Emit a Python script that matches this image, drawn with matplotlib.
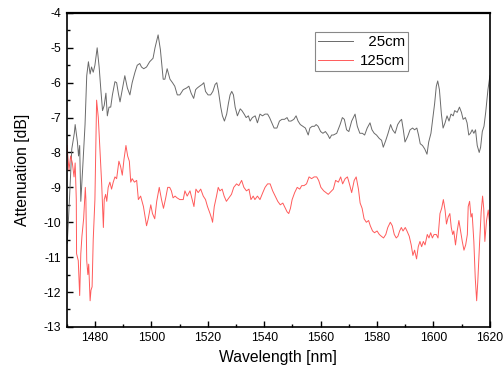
import matplotlib
matplotlib.use("Agg")
import matplotlib.pyplot as plt
from matplotlib.ticker import MultipleLocator

plt.rcParams['font.family'] = ['Liberation Sans', 'DejaVu Sans']
plt.rcParams['axes.unicode_minus'] = False

# 25cm trace
wl_25 = [1470.2, 1471.0, 1471.8, 1472.7, 1473.0, 1473.8, 1474.2, 1474.6, 1475.0, 1475.7,
         1476.5, 1477.1, 1477.7, 1478.3, 1478.8, 1479.4, 1480.0, 1480.8, 1481.5, 1482.1,
         1482.7, 1483.3, 1483.9, 1484.4, 1485.0, 1485.6, 1486.2, 1487.1, 1487.7, 1488.3,
         1488.9, 1489.7, 1490.6, 1491.5, 1492.4, 1493.2, 1494.2, 1495.0, 1495.9, 1496.5,
         1497.3, 1498.3, 1499.4, 1500.6, 1501.3, 1502.4, 1503.2, 1504.2, 1504.8, 1505.6,
         1506.6, 1507.5, 1508.3, 1509.2, 1510.1, 1511.3, 1512.5, 1513.3, 1514.1, 1515.0,
         1515.7, 1516.3, 1517.1, 1518.0, 1518.6, 1519.2, 1520.1, 1521.0, 1521.8, 1522.6,
         1523.2, 1523.8, 1524.6, 1525.2, 1525.9, 1526.7, 1527.3, 1527.9, 1528.5, 1529.1,
         1529.7, 1530.5, 1531.5, 1532.1, 1532.9, 1533.6, 1534.4, 1535.0, 1535.8, 1536.8,
         1537.6, 1538.5, 1539.4, 1540.3, 1541.2, 1541.9, 1542.7, 1543.5, 1544.5, 1545.4,
         1546.3, 1547.2, 1548.1, 1548.7, 1549.5, 1550.5, 1551.3, 1552.0, 1552.8, 1553.7,
         1554.6, 1555.6, 1556.2, 1557.0, 1557.8, 1558.4, 1559.1, 1560.0, 1560.8, 1561.7,
         1562.6, 1563.2, 1563.9, 1564.5, 1565.7, 1566.9, 1567.7, 1568.4, 1569.2, 1570.0,
         1571.0, 1572.2, 1573.0, 1573.9, 1574.8, 1575.6, 1576.5, 1577.5, 1578.2, 1579.0,
         1579.8, 1580.8, 1581.6, 1582.2, 1583.1, 1583.9, 1584.8, 1585.5, 1586.4, 1587.3,
         1588.1, 1588.7, 1589.3, 1589.9, 1590.8, 1591.7, 1592.6, 1593.3, 1594.1, 1594.7,
         1595.3, 1596.1, 1596.9, 1597.7, 1598.3, 1599.1, 1599.8, 1600.4, 1601.0, 1601.5,
         1602.1, 1602.8, 1603.4, 1604.1, 1604.8, 1605.5, 1606.2, 1607.0, 1607.5, 1608.4,
         1609.2, 1609.9, 1610.5, 1611.3, 1611.9, 1612.5, 1613.1, 1613.7, 1614.3, 1614.9,
         1615.5, 1616.2, 1616.7, 1617.3, 1617.9, 1618.5, 1619.3, 1620.0]
db_25 = [-10.6, -9.3, -7.9, -7.45, -7.2, -7.7, -8.1, -7.8, -9.4, -8.4,
         -7.2, -5.8, -5.4, -5.75, -5.55, -5.7, -5.5, -5.0, -5.55, -6.2,
         -6.8, -6.65, -6.3, -6.95, -6.7, -6.7, -6.35, -5.97, -6.0, -6.3,
         -6.55, -6.2, -5.8, -6.15, -6.35, -6.0, -5.7, -5.5, -5.45, -5.55,
         -5.6, -5.55, -5.4, -5.3, -5.0, -4.63, -5.05, -5.9, -5.9, -5.6,
         -5.9, -6.0, -6.1, -6.35, -6.35, -6.2, -6.15, -6.1, -6.3, -6.45,
         -6.2, -6.15, -6.1, -6.05, -6.0, -6.25, -6.35, -6.35, -6.25, -6.05,
         -6.0, -6.25, -6.7, -6.95, -7.1, -6.9, -6.6, -6.35, -6.25, -6.35,
         -6.7, -6.95, -6.75, -6.8, -6.9, -7.0, -6.95, -7.1, -7.0, -6.95,
         -7.15, -6.9, -6.95, -6.9, -6.9, -7.0, -7.15, -7.3, -7.3, -7.1,
         -7.05, -7.05, -7.0, -7.1, -7.1, -7.05, -6.95, -7.1, -7.2, -7.25,
         -7.3, -7.5, -7.3, -7.25, -7.25, -7.2, -7.25, -7.4, -7.45, -7.4,
         -7.5, -7.6, -7.5, -7.5, -7.45, -7.2, -7.0, -7.05, -7.35, -7.4,
         -7.1, -6.9, -7.25, -7.45, -7.45, -7.5, -7.3, -7.15, -7.35, -7.45,
         -7.5, -7.6, -7.65, -7.85, -7.65, -7.45, -7.2, -7.35, -7.45, -7.2,
         -7.1, -7.05, -7.35, -7.7, -7.55, -7.35, -7.3, -7.35, -7.3, -7.5,
         -7.75, -7.8, -7.9, -8.05, -7.7, -7.45, -7.0, -6.6, -6.1, -5.95,
         -6.2, -6.9, -7.3, -7.15, -6.95, -7.1, -6.9, -6.95, -6.8, -6.85,
         -6.7, -6.85, -7.05, -7.0, -7.15, -7.5, -7.45, -7.35, -7.45, -7.35,
         -7.8, -8.0, -7.85, -7.4, -7.25, -6.85, -6.2, -5.8]

# 125cm trace
wl_125 = [1470.1, 1470.8, 1471.4, 1472.0, 1472.6, 1473.0, 1473.4, 1473.5, 1474.1, 1474.6,
          1475.0, 1475.4, 1476.0, 1476.6, 1476.8, 1477.1, 1477.5, 1477.8, 1478.3, 1478.6,
          1479.0, 1479.4, 1480.0, 1480.6, 1481.2, 1481.8, 1482.4, 1483.0, 1483.3, 1483.8,
          1484.2, 1484.7, 1485.3, 1485.9, 1486.5, 1487.1, 1487.7, 1488.5, 1489.1, 1489.7,
          1490.3, 1491.0, 1491.6, 1492.2, 1492.7, 1493.2, 1494.0, 1494.8, 1495.4, 1496.2,
          1497.2, 1497.8, 1498.3, 1498.9, 1499.8, 1500.4, 1501.2, 1501.9, 1502.8, 1503.6,
          1504.3, 1505.1, 1505.8, 1506.5, 1507.1, 1507.7, 1508.4, 1509.1, 1510.1, 1511.3,
          1511.9, 1512.7, 1513.7, 1514.5, 1515.1, 1515.8, 1516.6, 1517.5, 1518.4, 1519.2,
          1519.9, 1520.8, 1521.4, 1521.7, 1522.3, 1523.1, 1523.7, 1524.3, 1525.1, 1525.8,
          1526.6, 1527.5, 1528.4, 1529.2, 1530.2, 1531.0, 1532.0, 1532.8, 1533.7, 1534.6,
          1535.3, 1536.1, 1536.7, 1537.6, 1538.5, 1539.5, 1540.3, 1541.2, 1542.1, 1543.0,
          1543.9, 1544.8, 1545.7, 1546.6, 1547.5, 1548.1, 1548.7, 1549.3, 1549.9, 1550.8,
          1551.7, 1552.6, 1553.3, 1554.1, 1555.0, 1555.9, 1556.8, 1557.7, 1558.6, 1559.3,
          1560.1, 1561.1, 1561.9, 1562.7, 1564.5, 1565.3, 1566.3, 1567.1, 1567.8, 1568.7,
          1569.5, 1570.2, 1571.0, 1571.9, 1572.6, 1573.4, 1574.0, 1574.7, 1575.4, 1576.2,
          1577.0, 1577.6, 1578.4, 1579.1, 1580.0, 1580.8, 1581.5, 1582.3, 1583.1, 1583.8,
          1584.7, 1585.4, 1586.1, 1586.8, 1587.4, 1588.0, 1588.6, 1589.2, 1590.0, 1590.6,
          1591.4, 1592.1, 1592.7, 1593.3, 1594.0, 1594.6, 1595.2, 1595.8, 1596.4, 1597.0,
          1597.8, 1598.4, 1599.0, 1599.6, 1600.2, 1601.0, 1601.6, 1602.3, 1602.9, 1603.5,
          1604.1, 1604.6, 1605.2, 1605.8, 1606.3, 1606.8, 1607.2, 1607.8, 1608.4, 1609.0,
          1609.6, 1610.2, 1610.8, 1611.4, 1612.0, 1612.3, 1612.8, 1613.3, 1613.7, 1614.3,
          1614.8, 1615.3, 1615.7, 1616.3, 1616.9, 1617.4, 1617.8, 1618.2, 1618.8, 1619.4,
          1620.0]
db_125 = [-7.8, -8.5, -8.1, -8.3, -8.7, -8.3, -9.35, -10.9, -11.1, -12.1,
          -10.9, -10.4, -9.9, -9.0, -9.35, -11.1, -11.5, -11.2, -12.25, -11.95,
          -11.85, -10.5, -9.35, -6.5, -7.0, -7.95, -8.9, -10.15, -9.35, -9.2,
          -9.4, -9.0, -8.85, -9.05, -8.85, -8.7, -8.75, -8.25, -8.4, -8.65,
          -8.2, -7.8, -8.1, -8.25, -8.85, -8.75, -8.85, -8.8, -9.35, -9.25,
          -9.55, -9.85, -10.1, -9.9, -9.5, -9.75, -9.9, -9.4, -9.0, -9.35,
          -9.6, -9.3, -9.0, -9.0, -9.1, -9.3, -9.25, -9.3, -9.35, -9.35,
          -9.1, -9.25, -9.1, -9.35, -9.55, -9.05, -9.15, -9.05, -9.25, -9.35,
          -9.55, -9.75, -9.9, -10.0, -9.55, -9.25, -9.0, -9.1, -9.05, -9.25,
          -9.4, -9.3, -9.2, -9.0, -8.9, -8.95, -8.8, -9.0, -9.1, -9.05,
          -9.35, -9.25, -9.35, -9.25, -9.35, -9.15, -9.0, -8.9, -8.9, -9.1,
          -9.25, -9.4, -9.5, -9.45, -9.6, -9.7, -9.75, -9.6, -9.35, -9.15,
          -9.0, -9.05, -8.95, -8.95, -8.9, -8.7, -8.75, -8.7, -8.7, -8.8,
          -9.0, -9.1, -9.15, -9.2, -9.05, -8.8, -8.85, -8.7, -8.9, -8.75,
          -8.7, -8.9, -9.15, -8.8, -8.7, -9.05, -9.45, -9.6, -9.9, -10.0,
          -9.95, -10.1, -10.25, -10.3, -10.25, -10.35, -10.4, -10.45, -10.35, -10.15,
          -10.0, -10.1, -10.35, -10.45, -10.4, -10.25, -10.15, -10.25, -10.15, -10.25,
          -10.4, -10.65, -10.95, -10.8, -11.05, -10.7, -10.55, -10.7, -10.55, -10.65,
          -10.35, -10.45, -10.3, -10.45, -10.35, -10.35, -10.45, -9.75, -9.6, -9.35,
          -9.65, -10.05, -9.85, -9.75, -10.15, -10.35, -10.25, -10.65, -10.25, -9.95,
          -10.25, -10.55, -10.8, -10.65, -10.35, -9.55, -9.4, -9.85, -9.75, -10.55,
          -11.6, -12.25, -11.7, -10.65, -9.7, -9.25, -9.6, -10.55, -9.95, -9.65,
          -10.1]

x_ticks = [1480, 1500, 1520, 1540, 1560, 1580, 1600, 1620]
y_ticks = [-4, -5, -6, -7, -8, -9, -10, -11, -12, -13]

fig = plt.figure(figsize=(5.03, 3.69), dpi=100)
ax = fig.add_axes([0.1326, 0.114, 0.8414, 0.851])

ax.plot(wl_25, db_25, color='#6a6a6a', lw=0.7, label='\u200725cm')
ax.plot(wl_125, db_125, color='#ff5a5a', lw=0.7, label='125cm')

ax.set_xlim(1470, 1620)
ax.set_ylim(-13, -4)
ax.set_xticks(x_ticks)
ax.set_yticks(y_ticks)
ax.xaxis.set_minor_locator(MultipleLocator(10))
ax.yaxis.set_minor_locator(MultipleLocator(0.5))
ax.tick_params(which='both', direction='in', top=False, right=False, labelsize=8.7, pad=4)
ax.tick_params(which='major', length=4, width=1)
ax.tick_params(which='minor', length=2.5, width=1)

for s in ax.spines.values():
    s.set_linewidth(1.2)
ax.spines['top'].set_linewidth(1.6)

ax.set_xlabel('Wavelength [nm]', fontsize=11.3, labelpad=4)
ax.set_ylabel('Attenuation [dB]', fontsize=11.3, labelpad=10)

leg = ax.legend(loc='upper left', bbox_to_anchor=(0.587, 0.9395), borderaxespad=0,
                fontsize=10.8, handlelength=2.3, handletextpad=0.5, borderpad=0.2,
                labelspacing=0.35, fancybox=False, framealpha=1)
leg.get_frame().set_edgecolor('#888888')
leg.get_frame().set_linewidth(0.8)

fig.savefig('out.png', dpi=100)
